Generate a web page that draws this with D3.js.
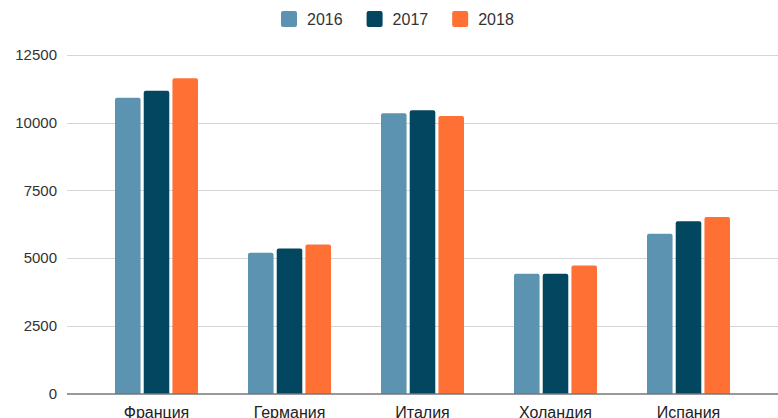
<!DOCTYPE html>
<html>
<head>
<meta charset="utf-8">
<script src="https://cdn.jsdelivr.net/npm/d3@7"></script>
<style>
  body { margin: 0; background: #fff; }
  svg { display: block; font-family: "Liberation Sans", Arial, sans-serif; }
</style>
</head>
<body>
<svg id="chart" width="778" height="418"></svg>
<script>
const countries = ["Франция", "Германия", "Италия", "Холандия", "Испания"];
const years = ["2016", "2017", "2018"];
const values2016 = [10920, 5200, 10350, 4420, 5900];
const values2017 = [11180, 5350, 10460, 4420, 6360];
const values2018 = [11640, 5500, 10250, 4730, 6520];
const yTicks = [0, 2500, 5000, 7500, 10000, 12500];
const colors = ["#5b93b1", "#02465f", "#ff7035"];

const seriesValues = [values2016, values2017, values2018];

const svg = d3.select("#chart");
const width = 778, height = 418;
const margin = {top: 55, right: 0, bottom: 24.5, left: 67};

const y = d3.scaleLinear()
    .domain([0, 12500])
    .range([height - margin.bottom, margin.top]);

const x = d3.scaleBand()
    .domain(countries)
    .range([90, 755])
    .paddingInner(0.376)
    .paddingOuter(0.188);

const xSub = d3.scaleBand()
    .domain(years)
    .range([0, x.bandwidth()])
    .paddingInner(0.11);

// gridlines
const grid = svg.append("g");
grid.selectAll("line")
    .data(yTicks.filter(d => d > 0))
    .enter().append("line")
    .attr("x1", margin.left)
    .attr("x2", width)
    .attr("y1", d => Math.round(y(d)) + 0.5)
    .attr("y2", d => Math.round(y(d)) + 0.5)
    .attr("stroke", "#d6d6d6")
    .attr("stroke-width", 1);

// y labels
svg.append("g").selectAll("text")
    .data(yTicks)
    .enter().append("text")
    .attr("x", 57)
    .attr("y", d => y(d))
    .attr("dy", "0.35em")
    .attr("text-anchor", "end")
    .attr("font-size", 15)
    .attr("fill", "#333")
    .text(d => d);

// bars, rounded tops
function barPath(x0, w, yTop, yBase, r) {
  return `M${x0},${yBase}V${yTop + r}Q${x0},${yTop} ${x0 + r},${yTop}` +
    `H${x0 + w - r}Q${x0 + w},${yTop} ${x0 + w},${yTop + r}V${yBase}Z`;
}

const groups = svg.append("g").selectAll("g")
    .data(countries)
    .enter().append("g")
    .attr("transform", d => `translate(${x(d)},0)`);

groups.selectAll("path")
    .data((c, ci) => years.map((yr, si) => ({yr, si, v: seriesValues[si][ci]})))
    .enter().append("path")
    .attr("fill", d => colors[d.si])
    .attr("d", d => barPath(xSub(d.yr), xSub.bandwidth(), y(d.v), y(0), 2));

// zero axis line
svg.append("line")
    .attr("x1", margin.left)
    .attr("x2", width)
    .attr("y1", y(0) + 0.5)
    .attr("y2", y(0) + 0.5)
    .attr("stroke", "#333")
    .attr("stroke-width", 1);

// x labels (cut at the bottom edge like the original)
svg.append("g").selectAll("text")
    .data(countries)
    .enter().append("text")
    .attr("x", d => x(d) + x.bandwidth() / 2)
    .attr("y", 417.5)
    .attr("text-anchor", "middle")
    .attr("font-size", 16)
    .attr("fill", "#222")
    .text(d => d);

// legend
const legend = svg.append("g");
let lx = 281;
years.forEach((yr, i) => {
  legend.append("rect")
      .attr("x", lx).attr("y", 11)
      .attr("width", 16).attr("height", 16)
      .attr("rx", 2)
      .attr("fill", colors[i]);
  const t = legend.append("text")
      .attr("x", lx + 26).attr("y", 19)
      .attr("dy", "0.35em")
      .attr("font-size", 16)
      .attr("fill", "#333")
      .text(yr);
  lx += 26 + t.node().getComputedTextLength() + 24;
});
</script>
</body>
</html>
